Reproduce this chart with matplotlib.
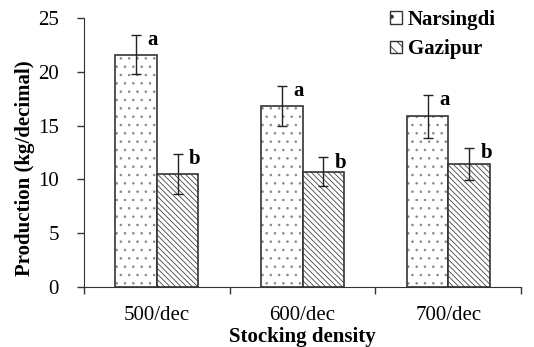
import numpy as np
import matplotlib.pyplot as plt
from matplotlib.patches import Patch

plt.rcParams['font.family'] = 'Liberation Serif'
plt.rcParams['hatch.linewidth'] = 0.6

densities = ['500/dec', '600/dec', '700/dec']
narsingdi = [21.6, 16.85, 15.85]
narsingdi_err = [1.8, 1.85, 2.0]
gazipur = [10.5, 10.7, 11.4]
gazipur_err = [1.9, 1.35, 1.5]
letters_n = ['a', 'a', 'a']
letters_g = ['b', 'b', 'b']

fig = plt.figure(figsize=(5.34, 3.47), dpi=100)
ax = fig.add_axes([0.157, 0.173, 0.819, 0.775])

x = np.arange(len(densities))
w = 0.285
dot_hatch = '..'
line_hatch = '\\' * 6

# hatch layer (hatch colour = edgecolour) then outline on top
ax.bar(x - w/2, narsingdi, w, color='white', edgecolor='#888888', hatch=dot_hatch, linewidth=0)
ax.bar(x - w/2, narsingdi, w, fill=False, edgecolor='#333333', linewidth=1.2)
ax.bar(x + w/2, gazipur, w, color='white', edgecolor='#444444', hatch=line_hatch, linewidth=0)
ax.bar(x + w/2, gazipur, w, fill=False, edgecolor='#333333', linewidth=1.2)

ax.errorbar(x - w/2, narsingdi, yerr=narsingdi_err, fmt='none', ecolor='#222222',
            elinewidth=1.0, capsize=3.5, capthick=1.0)
ax.errorbar(x + w/2, gazipur, yerr=gazipur_err, fmt='none', ecolor='#222222',
            elinewidth=1.0, capsize=3.5, capthick=1.0)

for i in range(len(x)):
    ax.text(x[i] - w/2 + 0.08, narsingdi[i] + narsingdi_err[i] - 0.95, letters_n[i],
            fontsize=15, fontweight='bold', ha='left', va='baseline')
    ax.text(x[i] + w/2 + 0.08, gazipur[i] + gazipur_err[i] - 0.95, letters_g[i],
            fontsize=15, fontweight='bold', ha='left', va='baseline')

ax.set_xlim(-0.5, 2.5)
ax.set_ylim(0, 25)
ax.set_yticks([0, 5, 10, 15, 20, 25])
ax.set_xticks(x)
ax.set_xticklabels(densities)
ax.set_xticks([-0.5, 0.5, 1.5, 2.5], minor=True)
ax.tick_params(axis='x', which='major', length=0, labelsize=15, pad=14)
ax.tick_params(axis='x', which='minor', length=5, direction='out', color='#333333', width=1.0)
ax.tick_params(axis='y', length=5, labelsize=15, color='#333333', pad=13, width=1.0)
ax.spines['top'].set_visible(False)
ax.spines['right'].set_visible(False)
ax.spines['left'].set_color('#333333')
ax.spines['bottom'].set_color('#333333')

ax.set_xlabel('Stocking density', fontsize=15, fontweight='bold', labelpad=1)
ax.set_ylabel('Production (kg/decimal)', fontsize=15, fontweight='bold')
ax.yaxis.set_label_coords(-0.112, 0.442)

handles = [Patch(facecolor='white', edgecolor='#333333', hatch='.', linewidth=1.0),
           Patch(facecolor='white', edgecolor='#333333', hatch='\\\\\\', linewidth=1.0)]
ax.legend(handles, ['Narsingdi', 'Gazipur'], loc='upper right', bbox_to_anchor=(0.985, 1.1),
          frameon=False, prop={'weight': 'bold', 'size': 15}, handlelength=0.55,
          handleheight=0.55, handletextpad=0.3, labelspacing=0.45)

fig.savefig('out.png', dpi=100)
